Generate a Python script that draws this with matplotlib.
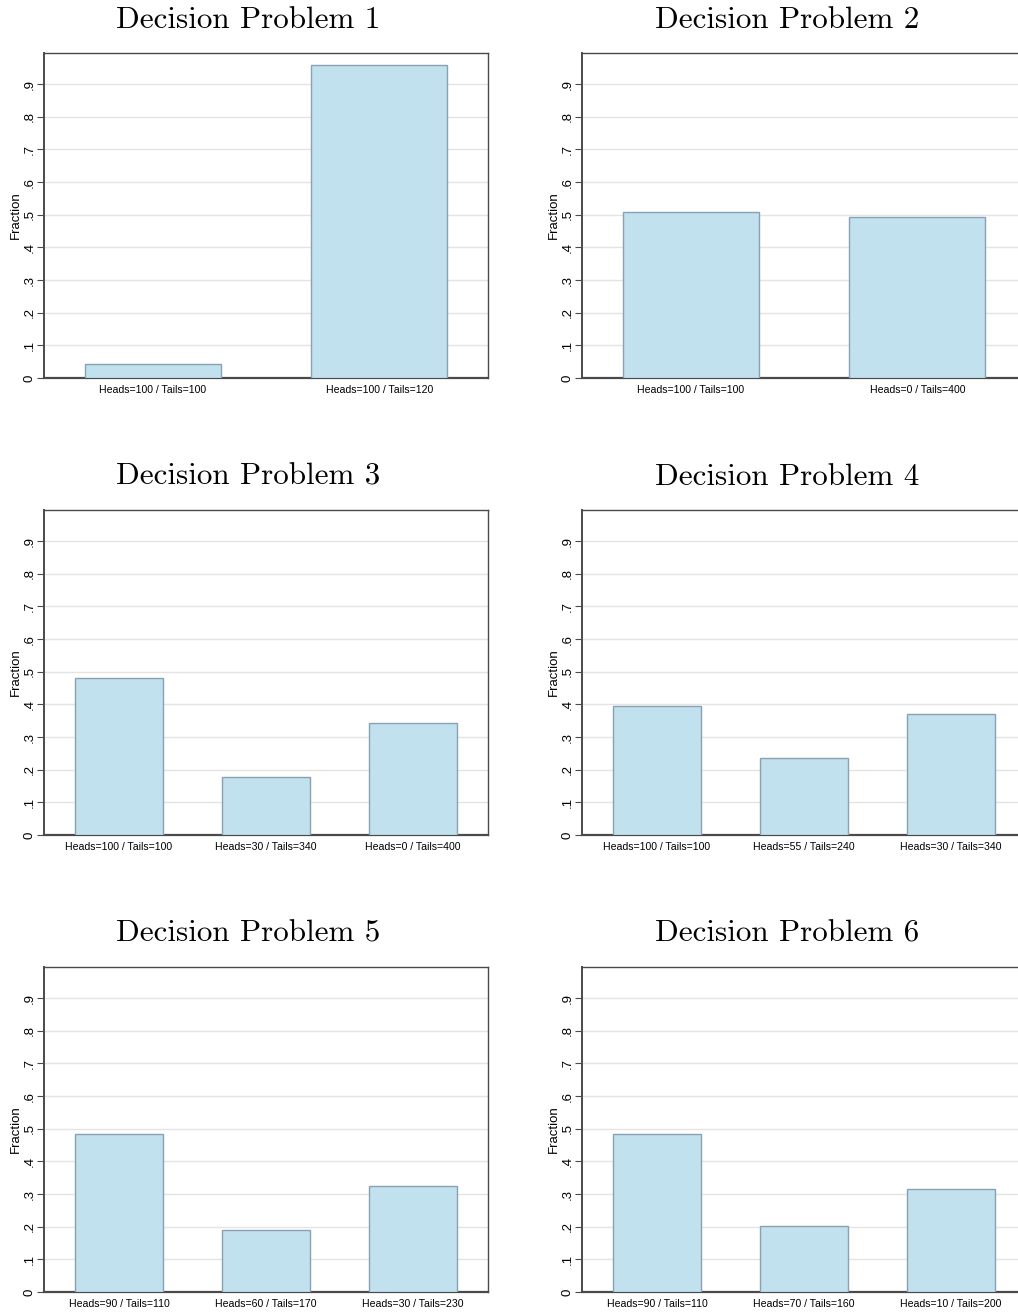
import matplotlib
matplotlib.use("Agg")
import matplotlib.pyplot as plt

# Share of subjects choosing each option, per decision problem
titles = ["Decision Problem 1", "Decision Problem 2", "Decision Problem 3",
          "Decision Problem 4", "Decision Problem 5", "Decision Problem 6"]

labels_1 = ["Heads=100 / Tails=100", "Heads=100 / Tails=120"]
values_1 = [0.043, 0.957]

labels_2 = ["Heads=100 / Tails=100", "Heads=0 / Tails=400"]
values_2 = [0.508, 0.492]

labels_3 = ["Heads=100 / Tails=100", "Heads=30 / Tails=340", "Heads=0 / Tails=400"]
values_3 = [0.480, 0.178, 0.342]

labels_4 = ["Heads=100 / Tails=100", "Heads=55 / Tails=240", "Heads=30 / Tails=340"]
values_4 = [0.394, 0.235, 0.369]

labels_5 = ["Heads=90 / Tails=110", "Heads=60 / Tails=170", "Heads=30 / Tails=230"]
values_5 = [0.485, 0.190, 0.324]

labels_6 = ["Heads=90 / Tails=110", "Heads=70 / Tails=160", "Heads=10 / Tails=200"]
values_6 = [0.485, 0.201, 0.314]

y_ticks = [0, 0.1, 0.2, 0.3, 0.4, 0.5, 0.6, 0.7, 0.8, 0.9]
y_tick_labels = ["0", ".1", ".2", ".3", ".4", ".5", ".6", ".7", ".8", ".9"]

panels = [(labels_1, values_1), (labels_2, values_2), (labels_3, values_3),
          (labels_4, values_4), (labels_5, values_5), (labels_6, values_6)]

W, H = 1018, 1314
fig = plt.figure(figsize=(W / 100, H / 100), dpi=100)
fig.patch.set_facecolor("white")

sans = ["Liberation Sans", "DejaVu Sans"]
bar_face = "#c0e1ed"
bar_edge = "#8aa0b3"
axis_col = "#4a4a4a"

col_left = [44, 582]
row_top = [53, 510, 967]
ax_w, ax_h = 444, 325
title_x = [248, 787]

for i, (labels, values) in enumerate(panels):
    r, c = divmod(i, 2)
    left = col_left[c] / W
    bottom = 1 - (row_top[r] + ax_h) / H
    ax = fig.add_axes([left, bottom, ax_w / W, ax_h / H])
    n = len(values)
    xs = list(range(n))
    ax.bar(xs, values, width=0.6, color=bar_face, edgecolor=bar_edge,
           linewidth=1.0, zorder=3)
    if n == 2:
        ax.set_xlim(-0.48, 1.48)
    else:
        ax.set_xlim(-0.51, 2.51)
    ax.set_ylim(0, 0.995)
    ax.set_yticks(y_ticks)
    ax.set_yticklabels(y_tick_labels, rotation=90, va="center",
                       fontsize=9.5, family=sans)
    ax.set_xticks(xs)
    ax.set_xticklabels(labels, fontsize=7.6, family=sans)
    ax.tick_params(axis="x", length=0, pad=5)
    ax.tick_params(axis="y", length=5, width=0.8, color=axis_col, pad=1)
    for yv in y_ticks[1:]:
        ax.axhline(yv, color="#e4e4e4", linewidth=1.0, zorder=1)
    for name, sp in ax.spines.items():
        sp.set_color(axis_col)
        sp.set_linewidth(1.0)
    ax.spines["bottom"].set_linewidth(1.6)
    ax.spines["left"].set_linewidth(1.4)
    ax.set_ylabel("Fraction", fontsize=9.5, family=sans, labelpad=1)
    fig.text(title_x[c] / W, 1 - (20 + r * 457) / H, titles[i],
             ha="center", va="center", fontsize=22.4, family="cmr10")

fig.savefig("out.png", dpi=100, facecolor="white")
